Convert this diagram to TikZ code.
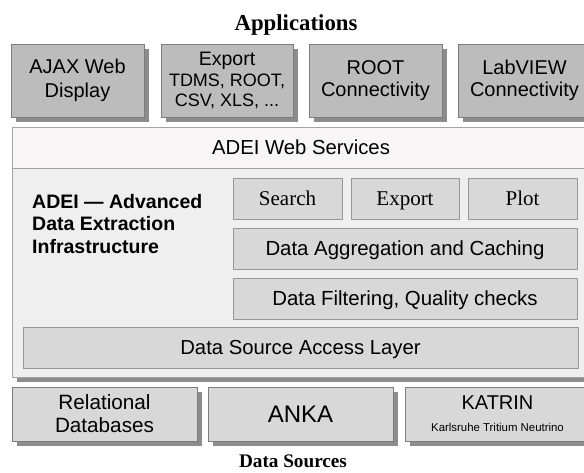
\documentclass[tikz,border=0pt]{standalone}
\usepackage{fontspec}
\setmainfont{Liberation Serif}
\newfontfamily\arial{Liberation Sans}
\usetikzlibrary{shadows}

\definecolor{appgray}{RGB}{188,188,188}
\definecolor{boxgray}{RGB}{216,216,216}
\definecolor{linegray}{RGB}{125,125,125}
\definecolor{shadegray}{RGB}{140,140,140}
\definecolor{panelgray}{RGB}{239,239,239}
\definecolor{bandgray}{RGB}{247,245,246}

\tikzset{
  appbox/.style={draw=linegray, fill=appgray, inner sep=0pt, align=center,
    minimum height=73pt, drop shadow={shadow xshift=5pt, shadow yshift=-5pt, fill=shadegray, opacity=1}},
  srcbox/.style={draw=linegray, fill=boxgray, inner sep=0pt, align=center,
    minimum width=185pt, minimum height=54pt, drop shadow={shadow xshift=5pt, shadow yshift=-5pt, fill=shadegray, opacity=1}},
  layerbox/.style={draw=linegray!80, fill=boxgray, inner sep=0pt, align=center, minimum height=41pt,
    text height=19pt, text depth=5pt},
  title/.style={font={\fontsize{#1}{24}\selectfont\bfseries}}
}

\begin{document}
\begin{tikzpicture}[x=1pt, y=-1pt]
    \useasboundingbox (0,0) rectangle (584,472);
    \node (apps) at (296,25) [title=22.8] {Applications};
    % Applications
    \node (ajax) at (77.5,80.5) [appbox, minimum width=133pt, font={\arial\fontsize{20}{23.5}\selectfont}] {AJAX Web\\Display};
    \node (exp) at (227,80.5) [appbox, minimum width=132pt, font={\arial\fontsize{18}{20.5}\selectfont}] {{\fontsize{19.5}{20.5}\selectfont Export}\\TDMS, ROOT,\\CSV, XLS, ...};
    \node (root) at (375.5,80.5) [appbox, minimum width=133pt, font={\arial\fontsize{20}{21.5}\selectfont}] {ROOT\\Connectivity};
    \node (labview) at (524.5,80.5) [appbox, minimum width=133pt, font={\arial\fontsize{20}{21.5}\selectfont}] {LabVIEW\\Connectivity};
    % ADEI panel
    \node (adei) at (301,252) [draw=linegray!70, fill=panelgray, minimum width=578pt, minimum height=250pt,
      drop shadow={shadow xshift=5pt, shadow yshift=-5pt, fill=shadegray, opacity=1}] {};
    \node (web) at (301,147.5) [draw=linegray!70, fill=bandgray, minimum width=578pt, minimum height=41pt,
      font={\arial\fontsize{20.3}{22}\selectfont}] {ADEI Web Services};
    \node (name) at (32,194) [anchor=north west, inner sep=0pt, align=left,
      font={\arial\bfseries\fontsize{19.5}{22.5}\selectfont}] {ADEI \textemdash\ Advanced\\Data Extraction\\Infrastructure};
    \node (search) at (287.5,198.5) [layerbox, minimum width=109pt, font={\fontsize{21}{22}\selectfont}] {Search};
    \node (export) at (405,198.5) [layerbox, minimum width=108pt, font={\fontsize{21}{22}\selectfont}] {Export};
    \node (plot) at (522.5,198.5) [layerbox, minimum width=109pt, font={\fontsize{21}{22}\selectfont}] {Plot};
    \node (agg) at (405,248.5) [layerbox, minimum width=344pt, font={\arial\fontsize{20.4}{22}\selectfont}] {Data Aggregation and Caching};
    \node (filt) at (405,298.5) [layerbox, minimum width=344pt, font={\arial\fontsize{20.4}{22}\selectfont}] {Data Filtering, Quality checks};
    \node (dsal) at (300.5,347.5) [layerbox, minimum width=555pt, font={\arial\fontsize{20.3}{22}\selectfont}] {Data Source Access Layer};
    % Data sources
    \node (rel) at (104.5,414) [srcbox, font={\arial\fontsize{20.7}{23}\selectfont}] {Relational\\Databases};
    \node (anka) at (300.5,414) [srcbox, font={\arial\fontsize{24}{26}\selectfont}] {ANKA};
    \node (katrin) at (497.5,414) [srcbox, font={\arial\fontsize{20}{22}\selectfont}] {KATRIN\\{\fontsize{11.4}{13}\selectfont Karlsruhe Tritium Neutrino}};
    \node (sources) at (293,461) [title=19.2] {Data Sources};
\end{tikzpicture}
\end{document}
